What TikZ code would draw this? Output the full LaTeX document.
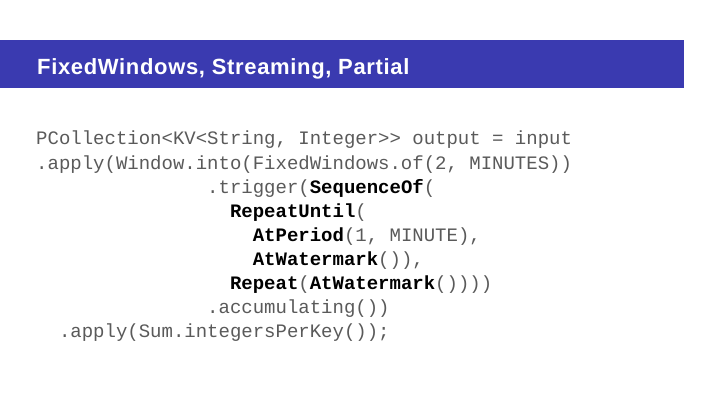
\documentclass[tikz,border=0pt]{standalone}
\usepackage{fontspec}
\setmainfont{Liberation Sans}
\setmonofont{Liberation Mono}
\definecolor{barblue}{HTML}{3A3AB0}
\definecolor{codegray}{HTML}{5A5A5A}
\begin{document}
\begin{tikzpicture}[x=1pt,y=1pt,
  codeline/.style={anchor=base west,inner sep=0pt,font=\fontsize{19}{19}\selectfont\ttfamily,text=codegray}]
\useasboundingbox (0,0) rectangle (720,405);
\fill[white] (0,0) rectangle (720,405);
\fill[barblue] (0,317) rectangle (684,365);
\node[anchor=base west,inner sep=0pt,text=white,font=\fontsize{22}{22}\selectfont\bfseries] (title) at (37,330) {\addfontfeature{LetterSpace=3}FixedWindows, Streaming, Partial};
\newcommand{\kw}[1]{\textcolor{black}{\textbf{#1}}}
\def\cw{11.4}
\node[codeline] (l1) at (36,260) {PCollection<KV<String, Integer>{}> output = input};
\node[codeline] (l2) at (36,236) {.apply(Window.into(FixedWindows.of(2, MINUTES))};
\node[codeline] (l3) at (36+15*\cw,212) {.trigger(\kw{SequenceOf}(};
\node[codeline] (l4) at (36+17*\cw,188) {\kw{RepeatUntil}(};
\node[codeline] (l5) at (36+19*\cw,164) {\kw{AtPeriod}(1, MINUTE),};
\node[codeline] (l6) at (36+19*\cw,140) {\kw{AtWatermark}()),};
\node[codeline] (l7) at (36+17*\cw,116) {\kw{Repeat}(\kw{AtWatermark}())))};
\node[codeline] (l8) at (36+15*\cw,92) {.accumulating())};
\node[codeline] (l9) at (36+2*\cw,68) {.apply(Sum.integersPerKey());};
\end{tikzpicture}
\end{document}
